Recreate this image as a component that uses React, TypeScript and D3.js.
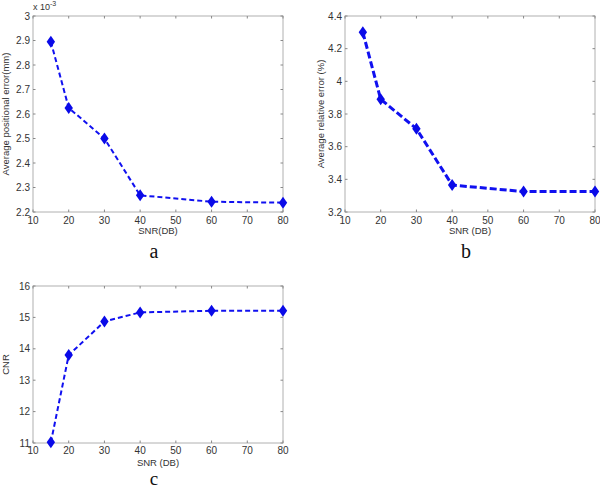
import React, { useEffect, useRef } from 'react';
import * as d3 from 'd3';

const snr = [15, 20, 30, 40, 60, 80];
const posError = [2.895, 2.625, 2.5, 2.268, 2.242, 2.238];
const relError = [4.3, 3.89, 3.71, 3.365, 3.325, 3.325];
const cnr = [11.02, 13.8, 14.87, 15.16, 15.21, 15.21];

const xTicks = [10, 20, 30, 40, 50, 60, 70, 80];
const posTicks = [2.2, 2.3, 2.4, 2.5, 2.6, 2.7, 2.8, 2.9, 3];
const relTicks = [3.2, 3.4, 3.6, 3.8, 4, 4.2, 4.4];
const cnrTicks = [11, 12, 13, 14, 15, 16];

interface PanelSpec {
  left: number;
  top: number;
  width: number;
  height: number;
  values: number[];
  yTicks: number[];
  yFormat: (v: number) => string;
  yLabel: string;
  yLabelX: number;
  xLabel: string;
  tickGap: number;
  xLabelGap: number;
  letter: string;
  letterY: number;
  letterSize: number;
  lineWidth: number;
  dash: string;
  exponent?: boolean;
}

const panels: PanelSpec[] = [
  {
    left: 33, top: 16, width: 250, height: 196,
    values: posError, yTicks: posTicks, yFormat: (v) => (v === 3 ? '3' : v.toFixed(1)),
    yLabel: 'Average positional error(mm)', yLabelX: 6, xLabel: 'SNR(DB)',
    tickGap: 12, xLabelGap: 22,
    letter: 'a', letterY: 258, letterSize: 20, lineWidth: 2, dash: '5,3', exponent: true,
  },
  {
    left: 345, top: 16, width: 250, height: 196,
    values: relError, yTicks: relTicks, yFormat: (v) => (v === 4 ? '4' : v.toFixed(1)),
    yLabel: 'Average relative error (%)', yLabelX: 321, xLabel: 'SNR (DB)',
    tickGap: 12, xLabelGap: 22,
    letter: 'b', letterY: 258, letterSize: 20, lineWidth: 3, dash: '7,3',
  },
  {
    left: 33, top: 286, width: 250, height: 157,
    values: cnr, yTicks: cnrTicks, yFormat: (v) => String(v),
    yLabel: 'CNR', yLabelX: 6, xLabel: 'SNR (DB)',
    tickGap: 11, xLabelGap: 22.5,
    letter: 'c', letterY: 484.5, letterSize: 19, lineWidth: 2, dash: '5,3',
  },
];

const diamond = 'M0,-6L4.2,0L0,6L-4.2,0Z';

export default function App() {
  const svgRef = useRef<SVGSVGElement>(null);

  useEffect(() => {
    const svg = d3.select(svgRef.current);
    svg.selectAll('*').remove();
    svg.append('rect').attr('width', 600).attr('height', 489).attr('fill', '#fff');

    panels.forEach((p) => {
      const x = d3.scaleLinear().domain([10, 80]).range([p.left, p.left + p.width]);
      const yMin = p.yTicks[0];
      const yMax = p.yTicks[p.yTicks.length - 1];
      const y = d3.scaleLinear().domain([yMin, yMax]).range([p.top + p.height, p.top]);
      const g = svg.append('g').attr('font-family', '"Liberation Sans", Arial, sans-serif');

      g.append('rect')
        .attr('x', p.left).attr('y', p.top)
        .attr('width', p.width).attr('height', p.height)
        .attr('fill', 'none').attr('stroke', '#b0b0b0').attr('stroke-width', 1);

      // inward ticks on all four sides
      xTicks.forEach((t) => {
        g.append('line').attr('x1', x(t)).attr('x2', x(t))
          .attr('y1', p.top + p.height).attr('y2', p.top + p.height - 2.5)
          .attr('stroke', '#888');
        g.append('line').attr('x1', x(t)).attr('x2', x(t))
          .attr('y1', p.top).attr('y2', p.top + 2.5)
          .attr('stroke', '#888');
        g.append('text').attr('x', x(t)).attr('y', p.top + p.height + p.tickGap)
          .attr('text-anchor', 'middle').attr('font-size', 10).attr('fill', '#333')
          .text(t);
      });
      p.yTicks.forEach((t) => {
        g.append('line').attr('x1', p.left).attr('x2', p.left + 2.5)
          .attr('y1', y(t)).attr('y2', y(t)).attr('stroke', '#888');
        g.append('line').attr('x1', p.left + p.width).attr('x2', p.left + p.width - 2.5)
          .attr('y1', y(t)).attr('y2', y(t)).attr('stroke', '#888');
        g.append('text').attr('x', p.left - 3).attr('y', y(t) + 3.5)
          .attr('text-anchor', 'end').attr('font-size', 10).attr('fill', '#333')
          .text(p.yFormat(t));
      });

      if (p.exponent) {
        const e = g.append('text').attr('x', p.left).attr('y', p.top - 6)
          .attr('font-size', 9).attr('fill', '#333');
        e.append('tspan').text('x 10');
        e.append('tspan').attr('dy', -4).attr('font-size', 7).text('-3');
      }

      g.append('text').attr('x', p.left + p.width / 2).attr('y', p.top + p.height + p.xLabelGap)
        .attr('text-anchor', 'middle').attr('font-size', 9.5).attr('fill', '#333')
        .text(p.xLabel);

      g.append('text')
        .attr('transform', `translate(${p.yLabelX + 3},${p.top + p.height / 2}) rotate(-90)`)
        .attr('text-anchor', 'middle').attr('font-size', 9.5).attr('fill', '#333')
        .text(p.yLabel);

      const pts = snr.map((s, i) => [s, p.values[i]] as [number, number]);
      const line = d3.line<[number, number]>().x((d) => x(d[0])).y((d) => y(d[1]));
      g.append('path').attr('d', line(pts))
        .attr('fill', 'none').attr('stroke', '#1010f0')
        .attr('stroke-width', p.lineWidth).attr('stroke-dasharray', p.dash);

      g.selectAll('.mk').data(pts).enter().append('path')
        .attr('d', diamond)
        .attr('transform', (d) => `translate(${x(d[0])},${y(d[1])})`)
        .attr('fill', '#0a0ae8');

      svg.append('text').attr('x', p.left + p.width / 2 - 4).attr('y', p.letterY)
        .attr('text-anchor', 'middle').attr('font-size', p.letterSize)
        .attr('font-family', '"Liberation Serif", "Times New Roman", serif').attr('fill', '#111')
        .text(p.letter);
    });
  }, []);

  return (
    <svg
      ref={svgRef}
      width={600}
      height={489}
      style={{ position: 'absolute', left: 0, top: 0 }}
    />
  );
}
